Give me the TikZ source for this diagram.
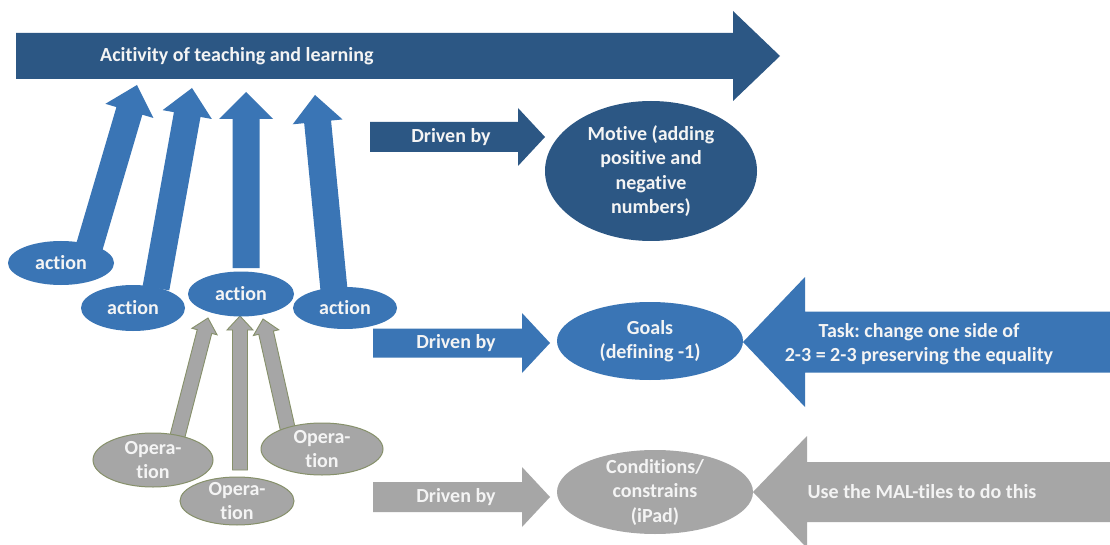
\documentclass[tikz,border=0pt]{standalone}
\usepackage{fontspec}
\setmainfont{Carlito}[Ligatures=NoCommon]
\frenchspacing
\usetikzlibrary{calc,shapes.geometric}
\definecolor{dkblue}{HTML}{2C5784}
\definecolor{mdblue}{HTML}{3A75B5}
\definecolor{gry}{HTML}{A6A6A6}
\definecolor{gryedge}{HTML}{86906A}
\definecolor{txtw}{HTML}{F4F4F4}
% #1 style, #2 tail, #3 tip, #4 half shaft, #5 half head, #6 head length
\newcommand{\blockarrow}[6]{%
  \coordinate (hb) at ($(#3)!#6!(#2)$);
  \filldraw[#1] ($(#2)!#4!90:(#3)$) -- ($(hb)!#4!90:(#3)$) -- ($(hb)!#5!90:(#3)$) -- (#3)
    -- ($(hb)!#5!-90:(#3)$) -- ($(hb)!#4!-90:(#3)$) -- ($(#2)!#4!-90:(#3)$) -- cycle;}
\begin{document}
\begin{tikzpicture}[x=1pt,y=-1pt,
  font=\fontsize{20}{24.5}\selectfont\bfseries,
  txt/.style={text=txtw, align=center, inner sep=0pt},
  dkarr/.style={fill=dkblue, draw=none},
  mdarr/.style={fill=mdblue, draw=none},
  gyarr/.style={fill=gry, draw=none},
  gyup/.style={fill=gry, draw=gryedge, line width=0.9pt},
  ell/.style={ellipse, inner sep=0pt},
  dkell/.style={ell, fill=dkblue},
  mdell/.style={ell, fill=mdblue},
  gyell/.style={ell, fill=gry, draw=gryedge, line width=1pt},
]
\fill[white] (0,0) rectangle (1110,545);
\useasboundingbox (0,0) rectangle (1110,545);

% top arrow
\coordinate (topS) at (16,56);
\coordinate (topE) at (780,56);
\blockarrow{dkarr}{topS}{topE}{23pt}{45pt}{47pt}
\node[txt, anchor=west] (toptext) at (100,56) {Acitivity of teaching and learning};

% blue up arrows
\coordinate (b1s) at (89,248);  \coordinate (b1e) at (137,85);
\coordinate (b2s) at (156,288); \coordinate (b2e) at (192,88);
\coordinate (b3s) at (246,268); \coordinate (b3e) at (246,92);
\coordinate (b4s) at (334,290); \coordinate (b4e) at (315,95);
\blockarrow{mdarr}{b1s}{b1e}{13.5pt}{25pt}{27pt}
\blockarrow{mdarr}{b2s}{b2e}{13.5pt}{25pt}{27pt}
\blockarrow{mdarr}{b3s}{b3e}{13.5pt}{27pt}{27pt}
\blockarrow{mdarr}{b4s}{b4e}{13.5pt}{25pt}{27pt}

% gray up arrows
\coordinate (g1s) at (177,438); \coordinate (g1e) at (208,318);
\coordinate (g2s) at (240,470); \coordinate (g2e) at (240,316);
\coordinate (g3s) at (288,430); \coordinate (g3e) at (263,319);
\blockarrow{gyup}{g1s}{g1e}{7.5pt}{13pt}{14pt}
\blockarrow{gyup}{g2s}{g2e}{7.5pt}{13pt}{14pt}
\blockarrow{gyup}{g3s}{g3e}{7.5pt}{13pt}{14pt}

% action ellipses
\node[mdell, minimum width=106pt, minimum height=44pt, label={[txt]center:action}] (a1) at (61,263) {};
\node[mdell, minimum width=104pt, minimum height=46pt, label={[txt]center:action}] (a2) at (133,308) {};
\node[mdell, minimum width=106pt, minimum height=45pt, label={[txt]center:action}] (a3) at (241,294) {};
\node[mdell, minimum width=104pt, minimum height=42pt, label={[txt]center:action}] (a4) at (345,308) {};

% operation ellipses
\node[gyell, minimum width=120pt, minimum height=54pt, label={[txt]center:Opera-\\tion}] (o1) at (153,460) {};
\node[gyell, minimum width=114pt, minimum height=48pt, label={[txt]center:Opera-\\tion}] (o2) at (237,501) {};
\node[gyell, minimum width=122pt, minimum height=52pt, label={[txt]center:Opera-\\tion}] (o3) at (322,449) {};

% right-side ellipses
\node[dkell, minimum width=212pt, minimum height=140pt, label={[txt]center:Motive (adding\\positive and\\negative\\numbers)}] (motive) at (651,171) {};
\node[mdell, minimum width=186pt, minimum height=78pt, label={[txt]center:Goals\\(defining -1)}] (goals) at (650,341) {};
\node[gyell, draw=none, minimum width=196pt, minimum height=84pt, label={[txt]center:Conditions/\\constrains\\(iPad)}] (cond) at (655,492) {};

% driven by arrows
\coordinate (d1s) at (370,137); \coordinate (d1e) at (545,137);
\coordinate (d2s) at (373,343); \coordinate (d2e) at (550,343);
\coordinate (d3s) at (373,497); \coordinate (d3e) at (550,497);
\blockarrow{dkarr}{d1s}{d1e}{15pt}{29pt}{27pt}
\blockarrow{mdarr}{d2s}{d2e}{14.5pt}{30pt}{28pt}
\blockarrow{gyarr}{d3s}{d3e}{15pt}{30pt}{28pt}
\node[txt] (d1t) at (451,137) {Driven by};
\node[txt] (d2t) at (456,343) {Driven by};
\node[txt] (d3t) at (456,497) {Driven by};

% task arrows
\coordinate (tks) at (1120,342); \coordinate (tke) at (743,342);
\coordinate (mls) at (1120,492); \coordinate (mle) at (753,492);
\blockarrow{mdarr}{tks}{tke}{30.5pt}{65pt}{62pt}
\blockarrow{gyarr}{mls}{mle}{30pt}{56pt}{54pt}
\node[txt] (tkt) at (919,344) {Task: change one side of\\2-3 = 2-3 preserving the equality};
\node[txt] (mlt) at (922,492) {Use the MAL-tiles to do this};
\end{tikzpicture}
\end{document}
